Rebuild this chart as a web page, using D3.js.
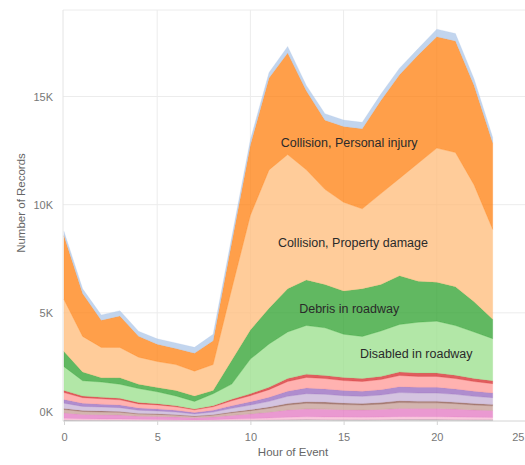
<!DOCTYPE html>
<html>
<head>
<meta charset="utf-8">
<script src="https://cdn.jsdelivr.net/npm/d3@7"></script>
<style>
  body { margin: 0; background: #fff; }
  svg { display: block; font-family: "Liberation Sans", Arial, sans-serif; }
</style>
</head>
<body>
<svg id="chart"></svg>
<script>
// hours 0..23
const hours = d3.range(24);

// layers from bottom to top
const seriesNames = [
  "Other A", "Other B", "Other C", "Other D", "Other E", "Other F",
  "Other G", "Other H", "Other I", "Other J",
  "Disabled in roadway", "Debris in roadway",
  "Collision, Property damage", "Collision, Personal injury", "Other K"
];
const seriesColors = [
  "#c7c7c7", "#7f7f7f", "#f7b6d2", "#e377c2", "#c49c94", "#8c564b",
  "#c5b0d5", "#9467bd", "#ff9896", "#d62728",
  "#98df8a", "#2ca02c", "#ffbb78", "#ff7f0e", "#aec7e8"
];

const otherA = [28, 23, 22, 21, 17, 16, 14, 11, 14, 20, 25, 31, 39, 43, 42, 40, 39, 41, 45, 44, 44, 42, 39, 37];
const otherB = [15, 12, 11, 10, 9, 8, 7, 6, 7, 10, 12, 15, 20, 22, 21, 20, 20, 21, 22, 22, 22, 21, 20, 18];
const otherC = [85, 70, 65, 63, 50, 48, 42, 33, 42, 60, 75, 93, 117, 130, 125, 120, 117, 123, 135, 132, 132, 126, 117, 110];
const otherD = [240, 195, 190, 180, 145, 135, 120, 95, 120, 170, 215, 265, 330, 365, 360, 340, 330, 350, 380, 375, 375, 360, 330, 315];
const otherE = [165, 140, 130, 125, 100, 95, 85, 65, 85, 120, 150, 185, 235, 260, 250, 240, 235, 245, 270, 265, 265, 250, 235, 220];
const otherF = [50, 40, 40, 35, 30, 28, 25, 20, 25, 35, 45, 55, 70, 75, 75, 70, 68, 72, 80, 77, 77, 73, 68, 65];
const otherG = [240, 195, 190, 180, 145, 135, 120, 95, 120, 170, 215, 265, 330, 365, 360, 340, 330, 350, 380, 375, 375, 360, 330, 315];
const otherH = [170, 140, 130, 125, 100, 95, 85, 65, 85, 120, 150, 185, 235, 260, 250, 240, 235, 245, 270, 265, 265, 250, 235, 220];
const otherI = [320, 265, 250, 240, 195, 185, 160, 125, 160, 230, 285, 355, 450, 495, 480, 460, 450, 470, 520, 505, 505, 480, 450, 425];
const otherJ = [100, 80, 75, 70, 60, 55, 50, 40, 50, 70, 90, 110, 140, 150, 145, 140, 135, 145, 160, 155, 155, 150, 140, 130];
const disabled = [1100, 700, 700, 650, 650, 550, 450, 350, 550, 700, 1600, 2000, 2150, 2250, 2200, 2000, 1950, 2100, 2200, 2350, 2400, 2300, 2150, 1950];
const debris = [700, 400, 200, 300, 200, 200, 250, 250, 150, 1100, 1350, 1650, 2000, 2100, 2000, 2000, 2200, 2150, 2250, 1900, 1800, 1800, 1400, 900];
const propDamage = [2400, 1650, 1400, 1400, 1250, 1200, 1200, 1150, 1200, 3300, 5300, 6400, 6200, 5100, 4400, 4100, 3700, 4200, 4500, 5450, 6200, 6200, 5400, 4150];
const persInjury = [2950, 1980, 1250, 1450, 970, 800, 740, 830, 1100, 2150, 3250, 4250, 4700, 3650, 3200, 3500, 3700, 4300, 4800, 5000, 5150, 5150, 4600, 4000];
const otherK = [200, 220, 250, 250, 230, 250, 260, 270, 300, 250, 250, 250, 300, 250, 300, 300, 300, 300, 300, 300, 350, 350, 300, 250];

const seriesValues = [otherA, otherB, otherC, otherD, otherE, otherF, otherG, otherH, otherI, otherJ,
  disabled, debris, propDamage, persInjury, otherK];

const xTicks = [0, 5, 10, 15, 20, 25];
const yTicks = [0, 5000, 10000, 15000];

// in-chart labels, placed at an hour and a value
const areaLabels = [
  { text: "Collision, Personal injury", hour: 15.3, value: 12650 },
  { text: "Collision, Property damage", hour: 15.5, value: 8050 },
  { text: "Debris in roadway", hour: 15.3, value: 5000 },
  { text: "Disabled in roadway", hour: 18.9, value: 2930 }
];

const width = 525, height = 465;
const svg = d3.select("#chart").attr("width", width).attr("height", height);

const x = d3.scaleLinear().domain([0, 25]).range([64, 530]);
const y = d3.scaleLinear().domain([0, 19000]).range([421, 10]);

const table = hours.map(h => {
  const row = { hour: h };
  seriesNames.forEach((n, i) => row[n] = seriesValues[i][h]);
  return row;
});
const stacked = d3.stack().keys(seriesNames)(table);

// grid
svg.append("g").selectAll("line")
  .data(yTicks.slice(1).concat([19000]))
  .join("line")
  .attr("x1", 63).attr("x2", width)
  .attr("y1", d => y(d)).attr("y2", d => y(d))
  .attr("stroke", "#ececec");
svg.append("g").selectAll("line")
  .data(xTicks.slice(1))
  .join("line")
  .attr("x1", d => x(d)).attr("x2", d => x(d))
  .attr("y1", y(19000)).attr("y2", y(0))
  .attr("stroke", "#ececec");
svg.append("line")
  .attr("x1", 63).attr("x2", 63).attr("y1", y(19000)).attr("y2", y(0))
  .attr("stroke", "#e4e4e4");

const area = d3.area()
  .x(d => x(d.data.hour))
  .y0(d => y(d[0]))
  .y1(d => y(d[1]));

svg.append("g").selectAll("path")
  .data(stacked)
  .join("path")
  .attr("d", area)
  .attr("fill", (d, i) => seriesColors[i])
  .attr("fill-opacity", 0.75)
  .attr("stroke", (d, i) => seriesColors[i])
  .attr("stroke-opacity", 0.35)
  .attr("stroke-width", 0.6);

// x axis
const xAxis = svg.append("g")
  .attr("transform", `translate(0,${y(0)})`)
  .call(d3.axisBottom(x).tickValues(xTicks).tickSize(4).tickPadding(8));
xAxis.select(".domain").attr("stroke", "#d4d4d4").attr("d", `M63,0H${width}`);
xAxis.selectAll(".tick line").attr("stroke", "#d4d4d4");
xAxis.selectAll("text").attr("fill", "#777").attr("font-size", 11)
  .attr("font-family", "Liberation Sans, Arial, sans-serif");
// last label sits at the window edge: keep it inside
xAxis.selectAll(".tick").filter(d => d === 25).select("text")
  .attr("text-anchor", "end").attr("x", width - 1 - x(25));

// y axis labels
svg.append("g").selectAll("text")
  .data(yTicks)
  .join("text")
  .attr("x", 53)
  .attr("y", d => d === 0 ? y(d) - 5 : y(d) + 4)
  .attr("text-anchor", "end")
  .attr("fill", "#777")
  .attr("font-size", 11)
  .text(d => d3.format("d")(d / 1000) + "K");

svg.append("text")
  .attr("x", 293).attr("y", 456)
  .attr("text-anchor", "middle")
  .attr("fill", "#666").attr("font-size", 11.5)
  .text("Hour of Event");

svg.append("text")
  .attr("transform", `translate(25,203) rotate(-90)`)
  .attr("text-anchor", "middle")
  .attr("fill", "#666").attr("font-size", 11.5)
  .text("Number of Records");

svg.append("g").selectAll("text")
  .data(areaLabels)
  .join("text")
  .attr("x", d => x(d.hour))
  .attr("y", d => y(d.value))
  .attr("text-anchor", "middle")
  .attr("fill", "#2a2a2a")
  .attr("font-size", 12.5)
  .text(d => d.text);
</script>
</body>
</html>
